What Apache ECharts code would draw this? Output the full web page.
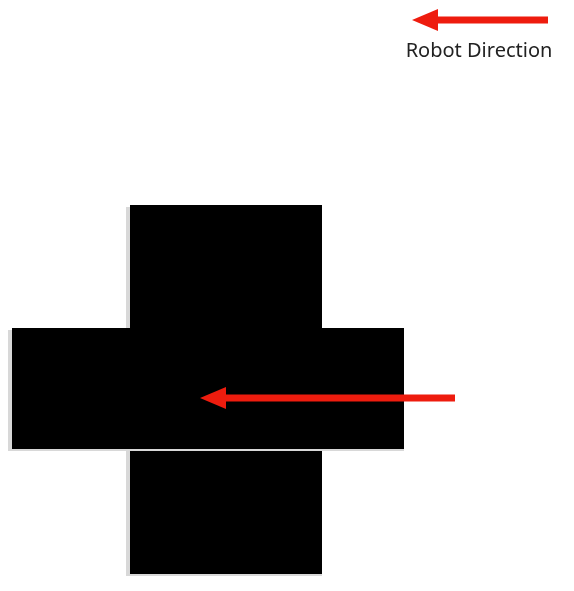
<!DOCTYPE html>
<html>
<head>
<meta charset="utf-8" />
<script src="https://cdn.jsdelivr.net/npm/echarts@6/dist/echarts.min.js"></script>
</head>
<body style="margin:0">
<div id="main" style="width:574px;height:591px;"></div>
<script type="text/javascript">
// blocks of the cross: [x0, y0, x1, y1] in picture units
var blocks = [
    [130, 205, 322, 574],
    [12, 328, 404, 449]
];
// arrows: [tailX, tailY, tipX, tipY]
var arrows = [
    [548, 20, 412, 20],
    [455, 398, 200, 398]
];
var labels = [['Robot Direction', 479, 51]];

var myChart = echarts.init(document.getElementById('main'));

function rectItem(params, api) {
    var p0 = api.coord([api.value(0), api.value(1)]);
    var p1 = api.coord([api.value(2), api.value(3)]);
    return {
        type: 'group',
        children: [
            { type: 'rect', shape: { x: p0[0] - 4, y: p0[1] + 2, width: p1[0] - p0[0] + 4, height: p1[1] - p0[1] }, style: { fill: '#d8d8d8' } },
            { type: 'rect', shape: { x: p0[0], y: p0[1], width: p1[0] - p0[0], height: p1[1] - p0[1] }, style: { fill: '#000' } }
        ]
    };
}

function arrowItem(params, api) {
    var t = api.coord([api.value(0), api.value(1)]);
    var h = api.coord([api.value(2), api.value(3)]);
    var headLen = 26, headHalf = 11;
    return {
        type: 'group',
        children: [
            { type: 'line', shape: { x1: t[0], y1: t[1], x2: h[0] + headLen - 2, y2: h[1] }, style: { stroke: '#ee1c0e', lineWidth: 7 } },
            { type: 'polygon', shape: { points: [[h[0], h[1]], [h[0] + headLen, h[1] - headHalf], [h[0] + headLen, h[1] + headHalf]] }, style: { fill: '#ee1c0e' } }
        ]
    };
}

function textItem(params, api) {
    var p = api.coord([api.value(1), api.value(2)]);
    return {
        type: 'text', x: p[0], y: p[1],
        style: { text: labels[params.dataIndex][0], fill: '#222', font: '20px "Noto Sans"', align: 'center', verticalAlign: 'middle' }
    };
}

var option = {
    animation: false,
    grid: { left: 0, right: 0, top: 0, bottom: 0 },
    xAxis: { type: 'value', min: 0, max: 574, show: false },
    yAxis: { type: 'value', min: 0, max: 591, inverse: true, show: false },
    series: [
        { type: 'custom', renderItem: rectItem, data: blocks },
        { type: 'custom', renderItem: arrowItem, data: arrows },
        { type: 'custom', renderItem: textItem, data: labels }
    ]
};
myChart.setOption(option);
</script>
</body>
</html>
